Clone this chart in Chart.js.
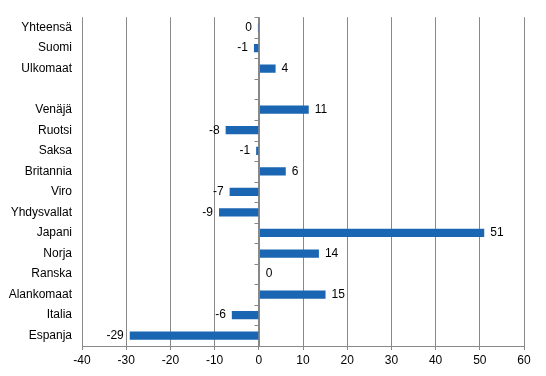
<!DOCTYPE html>
<html><head><meta charset="utf-8">
<script src="https://cdn.jsdelivr.net/npm/chart.js@4"></script>
<style>html,body{margin:0;padding:0;background:#fff}#wrap{width:546px;height:376px}</style>
</head><body><div id="wrap"><canvas id="c"></canvas></div>
<script>
const categories = ['Yhteensä','Suomi','Ulkomaat','','Venäjä','Ruotsi','Saksa','Britannia','Viro','Yhdysvallat','Japani','Norja','Ranska','Alankomaat','Italia','Espanja'];
const values = [-0.2,-1.1,3.8,null,11.3,-7.5,-0.6,6.1,-6.6,-9.0,51.0,13.6,0.2,15.1,-6.1,-29.2];
const xTicks = [-40,-30,-20,-10,0,10,20,30,40,50,60];

const FONT = {family:'"Liberation Sans", Arial, sans-serif', size:12};
const GRID = '#888888';

function fmt(v){ const r = Math.round(Math.abs(v)) * Math.sign(v); return r === 0 ? '0' : String(r); }

const zeroAxis = {
  id:'zeroAxis',
  afterDatasetsDraw(chart){
    const {ctx, chartArea, scales:{x,y}} = chart;
    const x0 = Math.round(x.getPixelForValue(0)) + 0.5;
    ctx.save();
    ctx.strokeStyle = GRID; ctx.lineWidth = 1;
    ctx.beginPath(); ctx.moveTo(x0, chartArea.top); ctx.lineTo(x0, chartArea.bottom); ctx.stroke();
    const n = categories.length;
    const step = (chartArea.bottom - chartArea.top) / n;
    for (let i = 0; i <= n; i++) {
      const yy = Math.round(y.getPixelForValue(i) - step/2) + 0.5;
      ctx.beginPath(); ctx.moveTo(x0 - 5, yy); ctx.lineTo(x0, yy); ctx.stroke();
    }
    ctx.fillStyle = '#000'; ctx.font = FONT.size + 'px ' + FONT.family; ctx.textBaseline = 'middle';
    const meta = chart.getDatasetMeta(0);
    meta.data.forEach((bar, i) => {
      const v = values[i];
      if (v === null || v === undefined) return;
      if (v < 0) { ctx.textAlign = 'right'; ctx.fillText(fmt(v), bar.x - 6, bar.y); }
      else { ctx.textAlign = 'left'; ctx.fillText(fmt(v), bar.x + 6, bar.y); }
    });
    ctx.restore();
  }
};

new Chart(document.getElementById('c'), {
  type:'bar',
  data:{ labels: categories, datasets:[{ data: values, backgroundColor:'#1a66b2', borderWidth:0, barPercentage:0.4, categoryPercentage:1 }] },
  options:{
    indexAxis:'y', responsive:true, maintainAspectRatio:false, animation:false,
    layout:{ padding:{ top:12, right:22, left:0, bottom:0 } },
    plugins:{ legend:{display:false}, tooltip:{enabled:false} },
    scales:{
      x:{
        min:-40, max:60,
        afterBuildTicks(s){ s.ticks = xTicks.map(v => ({value:v})); },
        afterFit(s){ s.height = 30; },
        grid:{ color:GRID, lineWidth:1, drawTicks:true, tickLength:4, tickColor:GRID },
        border:{ display:true, color:GRID },
        ticks:{ color:'#000', font:FONT, padding:3, maxRotation:0 }
      },
      y:{
        afterFit(s){ s.width = 82; },
        grid:{ display:false, drawTicks:false },
        border:{ display:false },
        ticks:{ color:'#000', font:FONT, padding:10, autoSkip:false }
      }
    }
  },
  plugins:[zeroAxis]
});
</script></body></html>
